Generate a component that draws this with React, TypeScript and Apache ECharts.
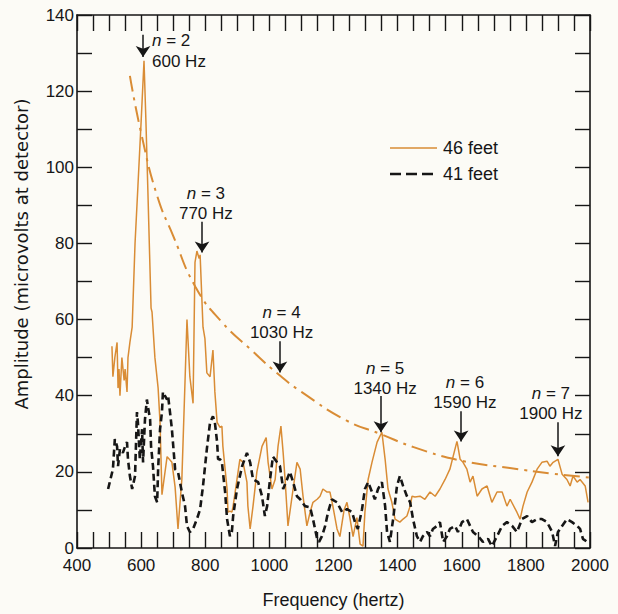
import React, { useEffect, useRef } from "react";
import * as echarts from "echarts";

// ---- Data ----
// 46 feet (orange, solid)
const freq46 = [509, 512, 518, 525, 528, 531, 534, 540, 547, 550, 556, 559, 565, 572, 581, 590, 600, 609, 615, 621, 631, 634, 643, 653, 659, 665, 681, 696, 706, 715, 727, 737, 743, 752, 762, 768, 774, 781, 784, 793, 799, 805, 815, 824, 830, 837, 846, 852, 855, 868, 871, 877, 883, 887, 899, 908, 918, 930, 933, 940, 949, 961, 977, 990, 996, 1008, 1018, 1027, 1036, 1043, 1049, 1058, 1074, 1086, 1096, 1105, 1117, 1127, 1136, 1149, 1158, 1167, 1180, 1189, 1198, 1211, 1220, 1233, 1242, 1251, 1261, 1273, 1283, 1292, 1298, 1308, 1320, 1336, 1345, 1351, 1361, 1370, 1382, 1392, 1407, 1417, 1429, 1439, 1445, 1454, 1470, 1485, 1501, 1517, 1532, 1548, 1563, 1573, 1585, 1588, 1595, 1604, 1616, 1626, 1635, 1648, 1663, 1679, 1694, 1710, 1726, 1741, 1751, 1772, 1782, 1791, 1804, 1819, 1835, 1850, 1866, 1875, 1885, 1900, 1913, 1928, 1938, 1947, 1960, 1969, 1985, 1994];
const amp46 = [53, 45, 50, 54, 42, 47, 40, 50, 44, 47, 41, 50, 54, 58, 80, 95, 112, 128, 112, 94, 63, 62, 50, 42, 33, 14, 24, 22.5, 16, 5, 18, 44, 60, 45, 38, 75, 78, 76, 77, 58, 55, 46, 45, 52, 41, 33, 31.7, 32, 26.7, 15.5, 9.4, 9.7, 9.4, 11, 18, 23.3, 22.5, 17.3, 11, 5, 11, 20, 26.7, 29, 22.5, 15.5, 18, 26.7, 32, 25, 18, 5.8, 15.5, 22.5, 20.7, 13.6, 5.8, 9.4, 12, 12.8, 13.6, 15.5, 14.7, 14.7, 11, 5, 3, 10, 12, 8, 3, 8, 1, 0.5, 9.4, 18, 22.5, 27.8, 29.4, 30.4, 23.3, 15.5, 12, 7.6, 6.8, 7.6, 8.4, 11, 13.6, 13.4, 13.6, 12.8, 14.7, 13.6, 15.5, 18, 20.7, 24, 28, 26.7, 23.3, 22.5, 20.7, 17.3, 18.9, 13.6, 15.5, 16.3, 12, 14.7, 14.7, 11, 12.8, 9.4, 7.6, 11, 14.7, 17.3, 20.7, 22.5, 22.8, 21.5, 22.5, 23.3, 19.4, 18, 16.3, 18.9, 17.3, 18, 16.3, 12];

// 41 feet (black, dashed)
const freq41 = [497, 512, 518, 525, 528, 534, 543, 550, 556, 559, 565, 572, 581, 587, 590, 596, 603, 606, 612, 618, 621, 628, 631, 637, 643, 650, 653, 659, 665, 668, 674, 681, 684, 690, 696, 706, 715, 727, 737, 743, 752, 762, 774, 784, 793, 805, 815, 824, 830, 837, 840, 846, 852, 855, 862, 868, 877, 883, 887, 899, 915, 930, 940, 949, 965, 977, 986, 993, 1002, 1011, 1024, 1033, 1043, 1055, 1064, 1074, 1086, 1096, 1111, 1127, 1136, 1149, 1155, 1164, 1174, 1183, 1195, 1211, 1227, 1242, 1258, 1267, 1276, 1289, 1298, 1308, 1320, 1329, 1339, 1351, 1361, 1367, 1376, 1386, 1398, 1407, 1417, 1429, 1439, 1448, 1460, 1470, 1479, 1492, 1501, 1510, 1523, 1532, 1542, 1554, 1563, 1579, 1588, 1601, 1616, 1626, 1635, 1651, 1666, 1682, 1694, 1710, 1726, 1741, 1757, 1772, 1788, 1804, 1819, 1835, 1850, 1866, 1882, 1891, 1900, 1913, 1928, 1944, 1960, 1969, 1978, 1991];
const amp41 = [15.5, 20.7, 28.6, 26.7, 21.5, 26, 25, 26.7, 27.8, 23.3, 18.9, 15.5, 18.9, 35.7, 33, 23.3, 31.2, 22.5, 33.8, 39, 37.2, 33.8, 26.7, 21.5, 13.6, 12, 20.7, 31.2, 35.7, 41, 40, 39, 40, 35.7, 31.2, 20.7, 20, 14.7, 11, 5.8, 4.2, 5, 7.6, 10.2, 16.3, 26, 33, 34.6, 33, 27.8, 23.3, 23.3, 22.5, 20, 14.7, 7.6, 3.1, 4.2, 8.4, 15.5, 21.5, 25, 22.5, 18, 17.3, 13.6, 8.4, 11, 18, 24, 22.5, 21.5, 15.5, 18, 20, 17.3, 13.6, 12.8, 11, 10.7, 7.6, 2.4, 1.6, 3.1, 5.8, 9.4, 12.8, 12, 9.4, 10.2, 9.4, 6.8, 5, 10.2, 15.5, 17.3, 14.7, 12.8, 15.5, 17.3, 11, 4.2, 1.6, 7.6, 16.3, 18.9, 16.3, 13.6, 12, 7.6, 3.1, 1.6, 3.1, 4.2, 3.1, 5, 5.8, 6.8, 1.6, 3.1, 5, 5.8, 4.2, 6.8, 7.6, 5.8, 4.2, 3.1, 1.6, 2.4, 0.5, 3.1, 5.8, 6.8, 5.8, 4.2, 7.6, 8.4, 6.8, 7.6, 7.6, 6.8, 4.2, 0.5, 4.2, 5.8, 7.6, 6.8, 5.8, 5, 2.4, 1.6];

// Dash-dot envelope curve
const fitFreq = [565, 600, 650, 700, 770, 850, 950, 1030, 1100, 1240, 1345, 1450, 1595, 1750, 1885, 2000];
const fitAmp = [124, 109, 92.5, 82, 68.5, 59.5, 51.5, 45.5, 41, 33.5, 30, 26.5, 23, 21, 19.5, 18.5];

// Harmonic annotations (arrow x in Hz, arrow top / tip amplitude, label anchors)
const harmonicN = [2, 3, 4, 5, 6, 7];
const harmonicHz = ["600", "770", "1030", "1340", "1590", "1900"];
const arrowFreq = [606, 790, 1033, 1348, 1598, 1900];
const arrowFrom = [134.8, 85.7, 54.3, 39.9, 35.9, 33];
const arrowTo = [129, 77.6, 46.1, 30.4, 28, 24.1];
const labelFreq = [634, 802, 1038, 1361, 1610, 1878];
const labelTopAmp = [133.2, 93.1, 61.8, 47.2, 43.5, 40.7];
const labelBottomAmp = [127.9, 87.8, 56.5, 41.9, 38.1, 35.4];

const legendNames = ["46 feet", "41 feet"];

const xTicks = { min: 400, max: 2000, interval: 200 };
const yTicks = { min: 0, max: 140, interval: 20 };

const ORANGE = "#d98c35";
const INK = "#161616";
const FONT = "'Liberation Sans', Arial, Helvetica, sans-serif";

export default function App() {
  const ref = useRef<HTMLDivElement>(null);
  useEffect(() => {
    if (!ref.current) return;
    const chart = echarts.init(ref.current, null, { renderer: "svg" });

    const tickLine = { color: INK, width: 1.4 };
    const xTickSet = {
      axisLine: { show: true, onZero: false, lineStyle: { color: INK, width: 1.6 } },
      axisTick: { show: true, inside: false, length: -16, lineStyle: tickLine },
      minorTick: { show: true, splitNumber: 4, length: -16, lineStyle: tickLine },
      splitLine: { show: false },
      minorSplitLine: { show: false },
    };
    const yTickSet = {
      axisLine: { show: true, onZero: false, lineStyle: { color: INK, width: 1.6 } },
      axisTick: { show: true, inside: false, length: -15, lineStyle: tickLine },
      minorTick: { show: true, splitNumber: 2, length: -15, lineStyle: tickLine },
      splitLine: { show: false },
      minorSplitLine: { show: false },
    };

    const markLineData = harmonicN.map((_, i) => [
      { coord: [arrowFreq[i], arrowFrom[i]] },
      { coord: [arrowFreq[i], arrowTo[i]] },
    ]);
    const markPointData: any[] = [];
    harmonicN.forEach((n, i) => {
      const align = i === 0 ? "left" : "center";
      markPointData.push({
        coord: [labelFreq[i], labelTopAmp[i]],
        value: n,
        label: { align, formatter: `{i|n} = ${n}` },
      });
      markPointData.push({
        coord: [labelFreq[i], labelBottomAmp[i]],
        value: n,
        label: { align, formatter: `${harmonicHz[i]} Hz` },
      });
    });

    const legendY = [148, 174];
    const graphic: any[] = [
      {
        type: "text",
        x: 21,
        y: 254,
        rotation: Math.PI / 2,
        silent: true,
        style: {
          text: "Amplitude (microvolts at detector)",
          fontSize: 18,
          fontFamily: "'DejaVu Sans', sans-serif",
          fill: INK,
          align: "center",
          verticalAlign: "middle",
        },
      },
    ];
    legendNames.forEach((name, i) => {
      graphic.push({
        type: "line",
        silent: true,
        shape: { x1: 390, y1: legendY[i], x2: 437, y2: legendY[i] },
        style: i === 0
          ? { stroke: ORANGE, lineWidth: 1.6 }
          : { stroke: INK, lineWidth: 2.6, lineDash: [11, 5] },
      });
      graphic.push({
        type: "text",
        silent: true,
        x: 443,
        y: legendY[i],
        style: {
          text: name,
          fontSize: 18,
          fontFamily: FONT,
          fill: INK,
          align: "left",
          verticalAlign: "middle",
        },
      });
    });

    chart.setOption({
      animation: false,
      backgroundColor: "#fcfbf6",
      textStyle: { fontFamily: FONT, color: INK },
      grid: { left: 77, right: 28, top: 15, bottom: 65, containLabel: false },
      graphic,
      xAxis: [
        {
          type: "value",
          ...xTicks,
          position: "bottom",
          ...xTickSet,
          axisLabel: {
            fontSize: 17,
            color: INK,
            margin: 9,
            fontFamily: FONT,
            formatter: (v: number) => String(v),
          },
          name: "Frequency (hertz)",
          nameLocation: "middle",
          nameGap: 43,
          nameTextStyle: { fontSize: 18, color: INK, fontFamily: FONT },
        },
        {
          type: "value",
          ...xTicks,
          position: "top",
          ...xTickSet,
          axisLabel: { show: false },
        },
      ],
      yAxis: [
        {
          type: "value",
          ...yTicks,
          position: "left",
          ...yTickSet,
          axisLabel: {
            fontSize: 17,
            color: INK,
            margin: 3,
            fontFamily: FONT,
            formatter: (v: number) => String(v),
          },
        },
        {
          type: "value",
          ...yTicks,
          position: "right",
          ...yTickSet,
          axisLabel: { show: false },
        },
      ],
      series: [
        {
          name: "fit",
          type: "line",
          data: fitFreq.map((f, i) => [f, fitAmp[i]]),
          smooth: true,
          showSymbol: false,
          symbol: "none",
          lineStyle: { color: ORANGE, width: 2, type: [16, 6, 3, 6] },
          silent: true,
          z: 2,
          markLine: {
            silent: true,
            symbol: ["none", "arrow"],
            symbolSize: 11,
            label: { show: false },
            lineStyle: { color: INK, width: 1.5, type: "solid" },
            itemStyle: { color: INK },
            emphasis: { disabled: true },
            data: markLineData,
          },
          markPoint: {
            silent: true,
            symbol: "rect",
            symbolSize: 1,
            itemStyle: { color: "rgba(0,0,0,0)" },
            label: {
              show: true,
              position: "inside",
              color: INK,
              fontSize: 17,
              lineHeight: 17,
              fontFamily: FONT,
              rich: {
                i: { fontStyle: "italic", fontSize: 17, lineHeight: 17, color: INK, fontFamily: FONT },
              },
            },
            data: markPointData,
          },
        },
        {
          name: "46 feet",
          type: "line",
          data: freq46.map((f, i) => [f, amp46[i]]),
          showSymbol: false,
          symbol: "none",
          color: ORANGE,
          lineStyle: { color: ORANGE, width: 1.5 },
          z: 3,
        },
        {
          name: "41 feet",
          type: "line",
          data: freq41.map((f, i) => [f, amp41[i]]),
          showSymbol: false,
          symbol: "none",
          color: INK,
          lineStyle: { color: INK, width: 2.6, type: [7, 4] },
          z: 4,
        },
      ],
    });
    return () => chart.dispose();
  }, []);
  return (
    <div
      ref={ref}
      style={{ position: "fixed", left: 0, top: 0, width: 618, height: 614 }}
    />
  );
}
